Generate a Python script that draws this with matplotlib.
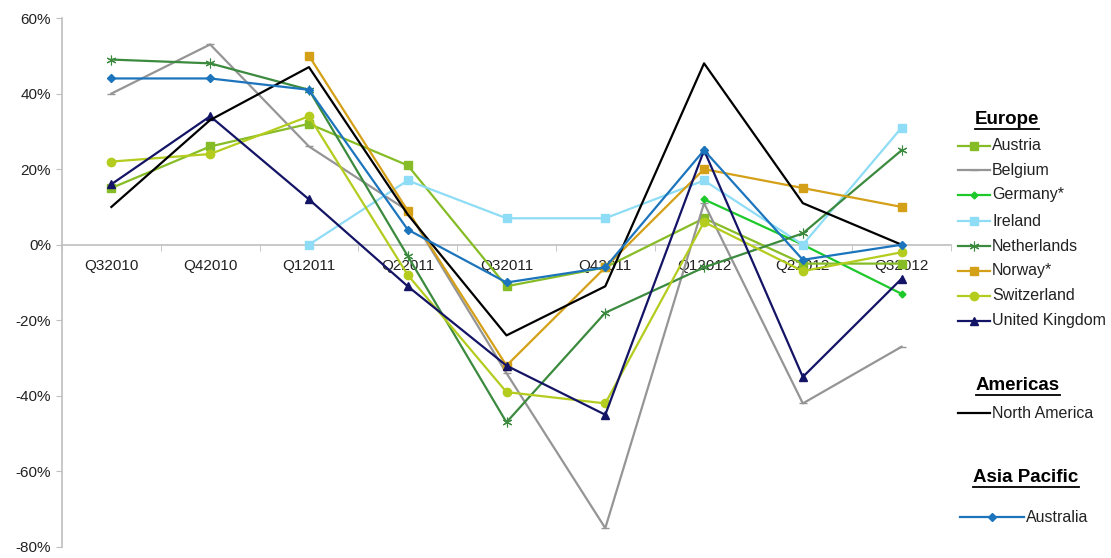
import numpy as np
import matplotlib
matplotlib.use("Agg")
import matplotlib.pyplot as plt
from matplotlib.lines import Line2D
from matplotlib.ticker import FuncFormatter, FixedLocator

plt.rcParams['font.family'] = ['Liberation Sans', 'DejaVu Sans']

quarters = ["Q32010", "Q42010", "Q12011", "Q22011", "Q32011", "Q42011", "Q12012", "Q22012", "Q32012"]
nan = np.nan
austria = [15, 26, 32, 21, -11, -6, 7, -5, -5]
belgium = [40, 53, 26, 9, -34, -75, 11, -42, -27]
germany = [nan, nan, nan, nan, nan, nan, 12, 0, -13]
ireland = [nan, nan, 0, 17, 7, 7, 17, 0, 31]
netherlands = [49, 48, 41, -3, -47, -18, -6, 3, 25]
norway = [nan, nan, 50, 9, -32, -6, 20, 15, 10]
switzerland = [22, 24, 34, -8, -39, -42, 6, -7, -2]
uk = [16, 34, 12, -11, -32, -45, 25, -35, -9]
north_america = [10, 33, 47, 8, -24, -11, 48, 11, 0]
australia = [44, 44, 41, 4, -10, -6, 25, -4, 0]

series = [
    ("Austria", austria, dict(color='#86BC25', marker='s', ms=5.5)),
    ("Belgium", belgium, dict(color='#959595', marker='_', ms=6)),
    ("Germany*", germany, dict(color='#1DC92A', marker='D', ms=3.5)),
    ("Ireland", ireland, dict(color='#8EDCF5', marker='s', ms=5.5)),
    ("Netherlands", netherlands, dict(color='#3B8A3E', marker=(6, 2, 0), ms=7, mew=0.8)),
    ("Norway*", norway, dict(color='#D4A017', marker='s', ms=5.5)),
    ("Switzerland", switzerland, dict(color='#B4CC1E', marker='o', ms=6)),
    ("United Kingdom", uk, dict(color='#141466', marker='^', ms=6)),
    ("North America", north_america, dict(color='#000000', marker=None)),
    ("Australia", australia, dict(color='#1C75BC', marker='D', ms=4.5)),
]

W, H = 1111, 558
fig = plt.figure(figsize=(W / 100, H / 100), dpi=100)
ax = fig.add_axes([62 / W, (H - 547) / H, (951 - 62) / W, (547 - 18) / H])

x = np.arange(len(quarters))
for name, vals, st in series:
    v = np.array(vals, dtype=float) / 100.0
    ax.plot(x, v, lw=1.6, **st, zorder=3)

ax.set_xlim(-0.5, len(quarters) - 0.5)
ax.set_ylim(-0.8, 0.6)
ax.yaxis.set_major_locator(FixedLocator(np.arange(-0.8, 0.61, 0.2)))
ax.yaxis.set_major_formatter(FuncFormatter(lambda v, p: f"{int(round(v*100))}%"))

for s in ['top', 'right']:
    ax.spines[s].set_visible(False)
ax.spines['left'].set_color('#BFBFBF')
ax.spines['left'].set_linewidth(1.2)
ax.spines['bottom'].set_position(('data', 0))
ax.spines['bottom'].set_color('#BFBFBF')
ax.spines['bottom'].set_linewidth(1.2)
ax.spines['bottom'].set_zorder(1)

ax.set_xticks(x)
ax.set_xticklabels(quarters)
ax.set_xticks(np.arange(-0.5, len(quarters) + 0.5, 1), minor=True)
ax.tick_params(axis='x', which='major', length=0, pad=10, labelsize=11, labelcolor='#222222')
ax.tick_params(axis='x', which='minor', length=4, color='#BFBFBF', direction='out')
ax.tick_params(axis='y', length=4, color='#BFBFBF', labelsize=11, labelcolor='#222222', pad=4)

# Legend drawn in figure pixel coordinates
def fx(px):
    return px / W

def fy(py):
    return (H - py) / H

def header(text, px, py):
    t = fig.text(fx(px), fy(py), text, fontsize=13.5, fontweight='bold', ha='center', va='center')
    fig.canvas.draw()
    bb = t.get_window_extent()
    fig.add_artist(Line2D([bb.x0 / W, bb.x1 / W], [(bb.y0 - 1) / H, (bb.y0 - 1) / H],
                          color='black', lw=1.3, transform=fig.transFigure))

def entry(name, st, py, x0=958, x1=990):
    kw = dict(st)
    ln = Line2D([fx(x0), fx(x1)], [fy(py), fy(py)], lw=1.6, transform=fig.transFigure,
                **{k: v for k, v in kw.items() if k not in ('marker', 'ms', 'mew')})
    fig.add_artist(ln)
    if kw.get('marker'):
        mk = Line2D([fx((x0 + x1) / 2)], [fy(py)], transform=fig.transFigure, color=kw['color'],
                    marker=kw['marker'], ms=kw.get('ms', 5), mew=kw.get('mew', 1), lw=0)
        fig.add_artist(mk)
    fig.text(fx(x1 + 2), fy(py), name, fontsize=11.5, ha='left', va='center', color='#222222')

header("Europe", 1007, 119)
ys = [146, 170, 195, 221, 246, 271, 296, 321]
for (name, vals, st), py in zip(series[:8], ys):
    entry(name, st, py)
header("Americas", 1018, 385)
entry(series[8][0], series[8][2], 413)
header("Asia Pacific", 1026, 477)
entry(series[9][0], series[9][2], 517, x0=960, x1=1024)

fig.savefig("out.png", dpi=100)
